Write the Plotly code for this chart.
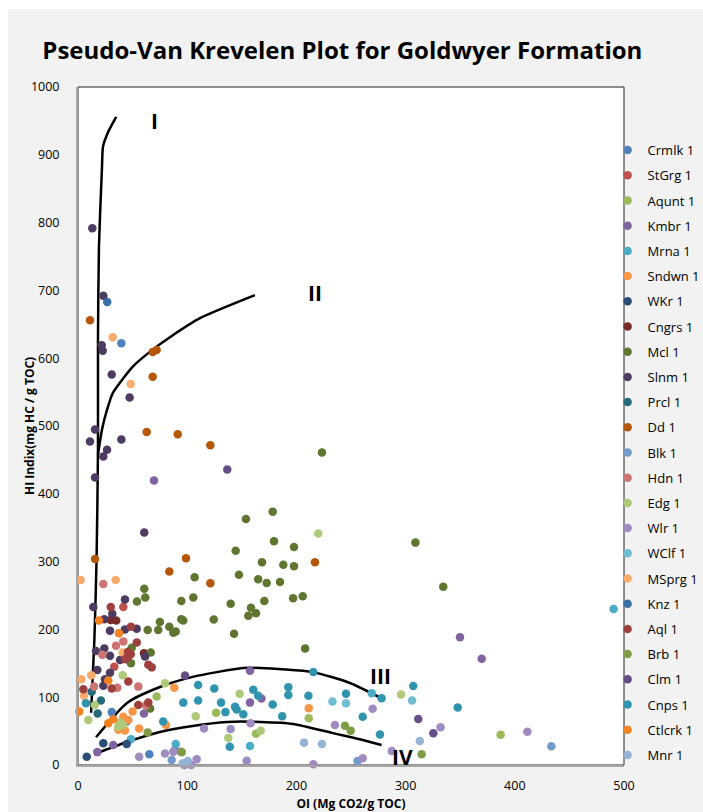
import plotly.graph_objects as go

# ---- Rock-Eval samples per well: OI (mg CO2/g TOC) and HI (mg HC/g TOC) ----
crmlk_oi = [39.7, 30.9, 44.6, 65.3]
crmlk_hi = [622, 78, 64, 16]
stgrg_oi = [41.5, 33.2]
stgrg_hi = [233, 145]
aqunt_oi = [72, 126.4, 211.3, 163, 387]
aqunt_hi = [101, 77, 69, 46, 44.8]
kmbr_oi = [69.6, 157.5, 157.5, 168, 349.8, 369.7, 88.8, 32.3, 17.7, 60.4]
kmbr_hi = [419.5, 139, 92, 98, 188.6, 156.6, 22, 29.5, 19, 76]
mrna_oi = [490.5, 157.5, 89.5, 48.5, 269]
mrna_hi = [230, 28, 31, 38, 106]
sndwn_oi = [211.3, 41.5, 46.1, 37, 43, 50, 56, 80.6, 88.2]
sndwn_hi = [83.6, 71, 66.5, 52, 51, 79, 54, 59, 114]
wkr_oi = [8, 23.2, 44.6]
wkr_hi = [12.3, 32, 31]
cngrs_oi = [30, 35, 60.4]
cngrs_hi = [214, 213, 165]
mcl_oi = [144.4, 106.8, 147.4, 60.7, 61.6, 54, 94.6, 105.6, 139.8, 158.4,
          163, 156, 124.3, 94.6, 96.4, 75, 83.6, 87.3, 89.5, 73.5,
          63.8, 142.9, 49.2, 48.5, 66.6, 66, 179.5, 197.8, 309, 168.5,
          188, 197.8, 165, 172.8, 185, 197, 205.8, 170.6, 334.5, 208,
          223.4, 178.3, 153.8]
mcl_hi = [316, 277, 280.6, 260, 247, 241, 242, 247, 238, 232,
          224, 220, 214.6, 215, 213, 211, 204, 195, 197, 199,
          199, 193.5, 173, 150, 166, 83.5, 330, 321.5, 328, 299,
          295.4, 293, 274, 268.4, 270, 246, 249, 242, 263, 172,
          461, 373.7, 363]
slnm_oi = [13.1, 23.2, 21.7, 22.6, 30.9, 47.3, 15.6, 11, 39.7, 26.6,
           23.2, 15.6, 60.7, 43, 14, 31.4, 24.1, 43, 53.8, 29.3,
           16.5, 24.1, 29.3, 38.5, 61.4, 17.7, 29.3, 24.7, 23.2]
slnm_hi = [791.6, 692, 619, 611, 576, 542, 495, 477, 480, 465,
           455, 424, 343, 244, 233, 223, 215, 200, 200.8, 198,
           168, 172, 161, 155, 160, 140, 136, 126.6, 117]
prcl_oi = [12.5, 21, 18]
prcl_hi = [108, 95, 76]
dd_oi = [11, 68.4, 72, 68.4, 62.9, 91.3, 121.2, 15.6, 98.9, 83.6, 121.2, 217]
dd_hi = [656, 609, 612, 572.6, 491, 488, 471.5, 304, 305, 285.5, 268, 299]
blk_oi = [85.8, 256, 433.5]
blk_hi = [7.4, 6, 27.6]
hdn_oi = [23.2, 41.5, 22.3, 34.8, 14.7, 36, 55.2, 62.3]
hdn_hi = [267, 182, 162.5, 176, 115.6, 114, 115.6, 88]
edg_oi = [40.9, 79.7, 148, 107.8, 137.6, 9.4, 15.3, 38.5, 40.9, 36.9, 220, 295.8, 167.3]
edg_hi = [132.5, 120.6, 105, 72, 40, 66.5, 88.6, 62.5, 59, 56.6, 341.6, 104, 50.7]
wlr_oi = [97.3, 103.5, 79.7, 87.3, 94, 56, 215.5, 260.7, 287.3, 154.5,
          108.7, 115.4, 139.8, 158, 411.5, 332, 269.8, 235.3]
wlr_hi = [0, 0, 17, 19.7, 19.7, 12, 1, 10, 20.7, 6.4,
          8.4, 54, 53, 61.6, 49.2, 55.6, 83, 59]
wclf_oi = [233, 245.4, 306]
wclf_hi = [93.5, 91, 95]
msprg_oi = [31.8, 48.3, 2.4, 34.5, 3, 12.2, 5.5, 40.9]
msprg_hi = [631, 562, 273, 273, 126.6, 132.5, 102, 166]
knz_oi = [26.8]
knz_hi = [683]
aql_oi = [30, 48.5, 53.8, 45.8, 48.3, 45.5, 43.3, 64.4, 67.5, 46.1, 4.9, 30.9, 55.2, 64.4]
aql_hi = [233, 204, 180.6, 167, 163.5, 159, 156, 148, 144, 123, 111.8, 113, 88.6, 92]
brb_oi = [95, 244.5, 249.7, 314.7, 63.8]
brb_hi = [19, 58, 50.7, 15.8, 48]
clm_oi = [136.7, 98, 311.6, 325.4]
clm_hi = [436, 132, 68, 46.8]
cnps_oi = [110, 124.8, 96.4, 110, 131, 135, 143.8, 145.3, 151.4, 160.5,
           78, 139, 215.5, 165, 178.3, 192.6, 192.6, 211, 187, 245.4,
           278, 307, 260.7, 276.5, 347.7, 7.3]
cnps_hi = [118, 113, 92, 95, 92, 78, 86, 82, 75, 111,
           64, 27, 137, 102, 89.4, 114.8, 103.4, 102, 72, 105,
           98.5, 116.6, 71, 45, 84.7, 91]
ctlcrk_oi = [19.2, 37.5, 27.7, 1.2, 27.7, 32.3]
ctlcrk_hi = [213, 194.5, 124.5, 79, 61.6, 67.5]
mnr_oi = [100.5, 95.9, 207, 223.4, 313]
mnr_hi = [6, 2.5, 33, 31, 35.5]

well_names = ["Crmlk 1", "StGrg 1", "Aqunt 1", "Kmbr 1", "Mrna 1", "Sndwn 1",
              "WKr 1", "Cngrs 1", "Mcl 1", "Slnm 1", "Prcl 1", "Dd 1",
              "Blk 1", "Hdn 1", "Edg 1", "Wlr 1", "WClf 1", "MSprg 1",
              "Knz 1", "Aql 1", "Brb 1", "Clm 1", "Cnps 1", "Ctlcrk 1", "Mnr 1"]
well_colors = ["#4F81BD", "#C0504D", "#9BBB59", "#8064A2", "#4BACC6", "#F79646",
               "#2C4D75", "#772C2A", "#5F7530", "#4D3B62", "#276A7C", "#B65708",
               "#729ACA", "#CD7371", "#AFC97A", "#A08BC0", "#6FBDD1", "#F9AB6B",
               "#3A6FAA", "#A0403E", "#7E9C44", "#664F88", "#3194AE", "#F58220",
               "#95B3D7"]
well_oi = [crmlk_oi, stgrg_oi, aqunt_oi, kmbr_oi, mrna_oi, sndwn_oi, wkr_oi,
           cngrs_oi, mcl_oi, slnm_oi, prcl_oi, dd_oi, blk_oi, hdn_oi, edg_oi,
           wlr_oi, wclf_oi, msprg_oi, knz_oi, aql_oi, brb_oi, clm_oi, cnps_oi,
           ctlcrk_oi, mnr_oi]
well_hi = [crmlk_hi, stgrg_hi, aqunt_hi, kmbr_hi, mrna_hi, sndwn_hi, wkr_hi,
           cngrs_hi, mcl_hi, slnm_hi, prcl_hi, dd_hi, blk_hi, hdn_hi, edg_hi,
           wlr_hi, wclf_hi, msprg_hi, knz_hi, aql_hi, brb_hi, clm_hi, cnps_hi,
           ctlcrk_hi, mnr_hi]

# ---- Kerogen type boundary curves ----
type1_oi = [12, 15, 17, 18.3, 18.3, 19.2, 22, 22.9, 28, 35]
type1_hi = [77, 185, 303, 465, 628, 765, 883, 912, 935, 956]
type2_oi = [18.3, 22, 26.6, 32, 50.4, 68.7, 84.2, 111.7, 162]
type2_hi = [458, 495, 524, 549, 588, 613, 631, 659, 693]
type3_oi = [16.5, 44.9, 75, 105, 151, 167, 215, 249, 281]
type3_hi = [41, 91.6, 115, 130, 143, 143, 137, 121, 96]
type4_oi = [20.1, 44.9, 75, 105, 136.4, 167, 197, 233.5, 258, 278]
type4_hi = [19.2, 34, 48.7, 57.6, 63.5, 63.5, 60.6, 47, 38, 29.5]

type_labels = ["I", "II", "III", "IV"]
type_label_oi = [70.5, 217, 276.6, 297.6]
type_label_hi = [950, 696, 131, 12]

FONT = "Open Sans"

fig = go.Figure()

for cx, cy in [(type1_oi, type1_hi), (type2_oi, type2_hi),
               (type3_oi, type3_hi), (type4_oi, type4_hi)]:
    fig.add_trace(go.Scatter(
        x=cx, y=cy, mode="lines", showlegend=False, hoverinfo="skip",
        line=dict(color="black", width=2.5, shape="spline", smoothing=0.6),
    ))

for name, color, xs, ys in zip(well_names, well_colors, well_oi, well_hi):
    fig.add_trace(go.Scatter(
        x=xs, y=ys, mode="markers", name=name, legendgroup=name,
        cliponaxis=False,
        marker=dict(color=color, size=8.5, line=dict(width=0)),
    ))

for lab, lx, ly in zip(type_labels, type_label_oi, type_label_hi):
    fig.add_annotation(x=lx, y=ly, text="<b>%s</b>" % lab, showarrow=False,
                       font=dict(family=FONT, size=21, color="black"))

# y-axis title, placed beside the tick labels
fig.add_annotation(xref="paper", yref="paper", x=-0.0897, y=0.5,
                   text="<b>HI Indix(mg HC / g TOC)</b>", textangle=-90,
                   showarrow=False, xanchor="center", yanchor="middle",
                   font=dict(family=FONT, size=12, color="black"))

# chart area (light grey) and white plot area with thin dark frame
fig.add_shape(type="rect", xref="paper", yref="paper", layer="below",
              x0=-0.1282, x1=1.15, y0=-0.075, y1=1.115,
              fillcolor="#f2f2f2", line=dict(width=0))
fig.add_shape(type="rect", xref="paper", yref="paper", layer="below",
              x0=0, x1=1, y0=0, y1=1,
              fillcolor="white", line=dict(color="#202020", width=1))

fig.update_layout(
    width=703, height=812,
    margin=dict(l=78, r=79, t=87, b=47, autoexpand=False),
    paper_bgcolor="white", plot_bgcolor="white",
    font=dict(family=FONT, color="black"),
    title=dict(text="<b>Pseudo-Van Krevelen Plot for Goldwyer Formation</b>",
               x=0.487, xanchor="center", y=0.938, yanchor="middle",
               font=dict(family=FONT, size=24, color="black")),
    legend=dict(x=0.97, xanchor="left", y=0.929, yanchor="top",
                bgcolor="rgba(0,0,0,0)", tracegroupgap=5.3,
                font=dict(family=FONT, size=13, color="black"),
                itemwidth=30),
    showlegend=True,
)
fig.update_xaxes(range=[0, 500], dtick=100, showgrid=False, zeroline=False,
                 showline=True, linecolor="#a6a6a6", linewidth=2,
                 ticks="", ticklabelstandoff=8,
                 tickfont=dict(family=FONT, size=12.5, color="black"),
                 title=dict(text="<b>OI (Mg CO2/g TOC)</b>", standoff=13,
                            font=dict(family=FONT, size=12, color="black")))
fig.update_yaxes(range=[0, 1000], dtick=100, showgrid=False, zeroline=False,
                 showline=True, linecolor="#a6a6a6", linewidth=2,
                 ticks="", ticklabelstandoff=14,
                 tickfont=dict(family=FONT, size=12.5, color="black"))

fig.write_html("out.html")
